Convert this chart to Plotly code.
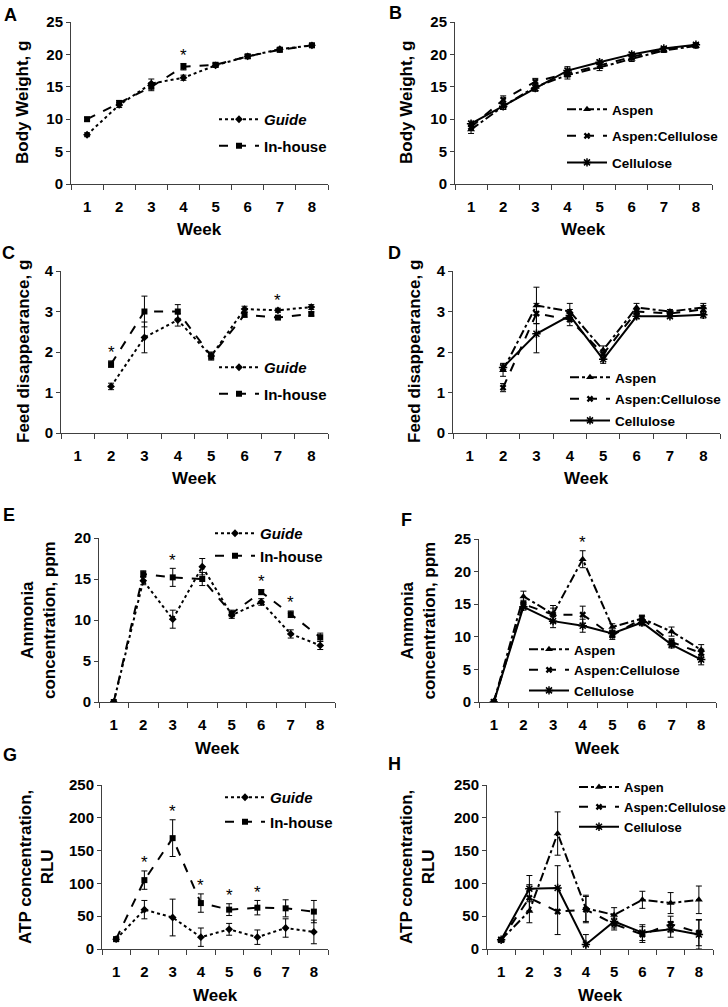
import plotly.graph_objects as go

W, H = 728, 1007
FONT = "Liberation Sans, Arial, sans-serif"

weeks = [1, 2, 3, 4, 5, 6, 7, 8]

# ---- Panel A: body weight, Guide vs In-house ----
bw_guide = [7.6, 12.2, 15.5, 16.4, 18.3, 19.7, 20.8, 21.4]
bw_guide_err = [0.3, 0.4, 0.7, 0.4, 0.3, 0.3, 0.3, 0.3]
bw_inhouse = [10.0, 12.5, 15.0, 18.1, 18.4, 19.7, 20.7, 21.4]
bw_inhouse_err = [0.3, 0.4, 0.6, 0.5, 0.3, 0.3, 0.3, 0.3]
bw_sig_weeks = [4]

# ---- Panel B: body weight by bedding ----
bw_aspen = [8.4, 12.0, 15.0, 16.8, 18.0, 19.3, 20.6, 21.3]
bw_aspen_err = [0.6, 0.5, 0.6, 0.6, 0.5, 0.4, 0.3, 0.3]
bw_ac = [8.8, 13.0, 15.8, 17.0, 18.3, 19.6, 20.8, 21.4]
bw_ac_err = [0.5, 0.6, 0.5, 0.5, 0.4, 0.3, 0.3, 0.3]
bw_cell = [9.3, 12.0, 14.8, 17.5, 18.8, 20.0, 20.9, 21.5]
bw_cell_err = [0.4, 0.5, 0.5, 0.6, 0.3, 0.3, 0.3, 0.3]

# ---- Panel C: feed disappearance, Guide vs In-house ----
fd_guide = [None, 1.15, 2.36, 2.79, 1.90, 3.06, 3.03, 3.11]
fd_guide_err = [None, 0.08, 0.38, 0.15, 0.08, 0.07, 0.05, 0.06]
fd_inhouse = [None, 1.70, 3.00, 3.00, 1.90, 2.92, 2.85, 2.94]
fd_inhouse_err = [None, 0.08, 0.38, 0.17, 0.10, 0.06, 0.04, 0.05]
fd_sig_weeks = [2, 7]

# ---- Panel D: feed disappearance by bedding ----
fd_aspen = [None, 1.55, 3.15, 3.00, 2.05, 3.10, 3.00, 3.10]
fd_aspen_err = [None, 0.15, 0.45, 0.20, 0.10, 0.10, 0.05, 0.10]
fd_ac = [None, 1.12, 2.95, 2.80, 1.95, 3.00, 2.95, 3.05]
fd_ac_err = [None, 0.10, 0.25, 0.15, 0.10, 0.08, 0.05, 0.10]
fd_cell = [None, 1.62, 2.45, 2.90, 1.82, 2.88, 2.88, 2.92]
fd_cell_err = [None, 0.10, 0.47, 0.15, 0.10, 0.06, 0.04, 0.08]

# ---- Panel E: ammonia, Guide vs In-house ----
am_guide = [0, 14.8, 10.1, 16.5, 10.6, 12.2, 8.3, 6.9]
am_guide_err = [0, 0.5, 1.1, 1.0, 0.4, 0.4, 0.5, 0.5]
am_inhouse = [0, 15.6, 15.2, 15.0, 10.8, 13.4, 10.7, 7.9]
am_inhouse_err = [0, 0.4, 1.1, 0.8, 0.4, 0.3, 0.4, 0.5]
am_sig_weeks = [3, 6, 7]

# ---- Panel F: ammonia by bedding ----
am_aspen = [0, 16.2, 13.5, 21.9, 11.5, 12.8, 10.8, 8.0]
am_aspen_err = [0, 0.8, 1.3, 1.3, 0.5, 0.5, 0.7, 0.8]
am_ac = [0, 15.0, 13.4, 13.4, 10.2, 12.8, 9.2, 7.5]
am_ac_err = [0, 0.6, 1.0, 1.3, 0.6, 0.5, 0.5, 0.6]
am_cell = [0, 14.6, 12.4, 11.7, 10.5, 12.2, 8.8, 6.5]
am_cell_err = [0, 0.5, 1.0, 1.0, 0.5, 0.5, 0.5, 0.8]
am_bed_sig_weeks = [4]

# ---- Panel G: ATP, Guide vs In-house ----
atp_guide = [15, 60, 48, 18, 30, 18, 32, 26]
atp_guide_err = [3, 14, 28, 14, 9, 11, 14, 18]
atp_inhouse = [15, 105, 169, 70, 60, 63, 62, 57]
atp_inhouse_err = [3, 14, 28, 14, 9, 11, 13, 17]
atp_sig_weeks = [2, 3, 4, 5, 6]

# ---- Panel H: ATP by bedding ----
atp_aspen = [14, 58, 176, 62, 52, 75, 70, 75]
atp_aspen_err = [3, 18, 33, 20, 11, 13, 16, 21]
atp_ac = [14, 78, 57, 60, 38, 22, 38, 25]
atp_ac_err = [3, 20, 35, 20, 9, 12, 12, 20]
atp_cell = [14, 92, 93, 7, 42, 25, 30, 22]
atp_cell_err = [3, 20, 34, 15, 10, 12, 12, 22]

# ---- layout: plot-area boxes in pixels (x0, x1, ytop, ybottom) ----
panels = {
    "A": dict(box=(71, 328, 22, 184), ymax=25, dtick=5, ytitle="Body Weight, g", tx=23, letter=(10, 15)),
    "B": dict(box=(455, 712, 22, 184), ymax=25, dtick=5, ytitle="Body Weight, g", tx=407, letter=(396, 13)),
    "C": dict(box=(61, 328, 271, 433), ymax=4, dtick=1, ytitle="Feed disappearance, g", tx=23, letter=(8, 253)),
    "D": dict(box=(453, 720, 271, 433), ymax=4, dtick=1, ytitle="Feed disappearance, g", tx=414, letter=(394, 253)),
    "E": dict(box=(99, 335, 538, 702), ymax=20, dtick=5, ytitle="Ammonia<br>concentration, ppm", tx=38, letter=(9, 515)),
    "F": dict(box=(479, 716, 539, 702), ymax=25, dtick=5, ytitle="Ammonia<br>concentration, ppm", tx=418, letter=(406, 520)),
    "G": dict(box=(102, 328, 785, 949), ymax=250, dtick=50, ytitle="ATP concentration,<br>RLU", tx=36, letter=(10, 755)),
    "H": dict(box=(487, 713, 785, 949), ymax=250, dtick=50, ytitle="ATP concentration,<br>RLU", tx=417, letter=(394, 764)),
}

# legend: left edge / top edge in pixels, extra gap between entries, font size
legends = {
    "A": dict(x=214, y=103, gap=4, fs=15),
    "B": dict(x=562, y=94, gap=6, fs=13.5),
    "C": dict(x=214, y=351, gap=4, fs=15),
    "D": dict(x=565, y=362, gap=1, fs=13.5),
    "E": dict(x=210, y=517, gap=0, fs=15),
    "F": dict(x=524, y=634, gap=0, fs=13.5),
    "G": dict(x=220, y=781, gap=2, fs=15),
    "H": dict(x=574, y=772, gap=0, fs=13),
}

GUIDE = dict(name="<i>Guide</i>", dash="dot", symbol="diamond", size=6)
INHOUSE = dict(name="In-house", dash="dash", symbol="square", size=6)
ASPEN = dict(name="Aspen", dash="dashdot", symbol="triangle-up", size=7)
AC = dict(name="Aspen:Cellulose", dash="dash", symbol="x", size=6)
CELL = dict(name="Cellulose", dash="solid", symbol="asterisk-open", size=7)

series = {
    "A": [(GUIDE, bw_guide, bw_guide_err), (INHOUSE, bw_inhouse, bw_inhouse_err)],
    "B": [(ASPEN, bw_aspen, bw_aspen_err), (AC, bw_ac, bw_ac_err), (CELL, bw_cell, bw_cell_err)],
    "C": [(GUIDE, fd_guide, fd_guide_err), (INHOUSE, fd_inhouse, fd_inhouse_err)],
    "D": [(ASPEN, fd_aspen, fd_aspen_err), (AC, fd_ac, fd_ac_err), (CELL, fd_cell, fd_cell_err)],
    "E": [(GUIDE, am_guide, am_guide_err), (INHOUSE, am_inhouse, am_inhouse_err)],
    "F": [(ASPEN, am_aspen, am_aspen_err), (AC, am_ac, am_ac_err), (CELL, am_cell, am_cell_err)],
    "G": [(GUIDE, atp_guide, atp_guide_err), (INHOUSE, atp_inhouse, atp_inhouse_err)],
    "H": [(ASPEN, atp_aspen, atp_aspen_err), (AC, atp_ac, atp_ac_err), (CELL, atp_cell, atp_cell_err)],
}
sig = {"A": bw_sig_weeks, "C": fd_sig_weeks, "E": am_sig_weeks, "F": am_bed_sig_weeks, "G": atp_sig_weeks}

fig = go.Figure()
layout = dict(
    width=W, height=H, margin=dict(l=0, r=0, t=0, b=0, autoexpand=False),
    paper_bgcolor="white", plot_bgcolor="white", showlegend=True,
    font=dict(family=FONT, size=15, color="black"),
)
annotations = []
AX = "#404040"


def px(x):
    return x / W


def py(y):
    return 1 - y / H


for i, (key, p) in enumerate(panels.items()):
    n = i + 1
    xa = "xaxis" if n == 1 else f"xaxis{n}"
    ya = "yaxis" if n == 1 else f"yaxis{n}"
    xr = "x" if n == 1 else f"x{n}"
    yr = "y" if n == 1 else f"y{n}"
    lg = "legend" if n == 1 else f"legend{n}"
    x0, x1, yt, yb = p["box"]
    layout[xa] = dict(
        domain=[px(x0), px(x1)], anchor=yr, range=[0.5, 8.5],
        tickmode="array", tickvals=weeks, ticktext=[str(w) for w in weeks],
        ticks="", ticklabelstandoff=9, showline=True, linecolor=AX, linewidth=1,
        showgrid=False, zeroline=False, fixedrange=True, automargin=False,
        tickfont=dict(family=FONT, size=15, color="black", weight="bold"),
        minor=dict(ticks="outside", tickmode="array", tickvals=[w - 0.5 for w in weeks] + [8.5],
                   ticklen=5, tickcolor=AX, tickwidth=1, showgrid=False),
    )
    layout[ya] = dict(
        domain=[py(yb), py(yt)], anchor=xr, range=[0, p["ymax"]], dtick=p["dtick"], tick0=0,
        ticks="outside", ticklen=4, tickcolor=AX, showline=True, linecolor=AX, linewidth=1,
        showgrid=False, zeroline=False, fixedrange=True, automargin=False,
        tickfont=dict(family=FONT, size=15, color="black", weight="bold"),
    )
    lgd = legends[key]
    layout[lg] = dict(
        x=px(lgd["x"]), y=py(lgd["y"]), xanchor="left", yanchor="top",
        bgcolor="rgba(0,0,0,0)", borderwidth=0, itemwidth=40,
        tracegroupgap=lgd["gap"], traceorder="grouped",
        font=dict(family=FONT, size=lgd["fs"], color="black", weight="bold"),
        itemclick=False, itemdoubleclick=False,
    )
    for j, (st, vals, errs) in enumerate(series[key]):
        mline = dict(width=1.5, color="black") if st["symbol"].endswith("open") else dict(width=0)
        fig.add_trace(go.Scatter(
            x=weeks, y=vals, name=st["name"], mode="lines+markers",
            line=dict(color="black", width=2, dash=st["dash"]),
            marker=dict(symbol=st["symbol"], size=st["size"], color="black", line=mline),
            error_y=dict(type="data", array=errs, color="black", thickness=1, width=3, visible=True),
            xaxis=xr, yaxis=yr, legend=lg, legendgroup=f"{key}{j}",
            connectgaps=False, hoverinfo="skip",
        ))
    # significance stars, placed just above the tallest error bar at that week
    for w in sig.get(key, []):
        k = weeks.index(w)
        top = max((v[k] or 0) + (e[k] or 0) for _, v, e in series[key])
        annotations.append(dict(
            x=w, y=top, xref=xr, yref=yr, text="*", showarrow=False,
            font=dict(family=FONT, size=17, color="black"), yanchor="middle", yshift=8,
        ))
    # y title
    annotations.append(dict(
        x=px(p["tx"]), y=py((yt + yb) / 2), xref="paper", yref="paper", text=p["ytitle"],
        textangle=-90, showarrow=False, xanchor="center", yanchor="middle",
        font=dict(family=FONT, size=17, color="black", weight="bold"),
    ))
    # x title
    annotations.append(dict(
        x=px((x0 + x1) / 2), y=py(yb + 46), xref="paper", yref="paper", text="Week",
        showarrow=False, xanchor="center", yanchor="middle",
        font=dict(family=FONT, size=17, color="black", weight="bold"),
    ))
    # panel letter
    lx, ly = p["letter"]
    annotations.append(dict(
        x=px(lx), y=py(ly), xref="paper", yref="paper", text=key, showarrow=False,
        xanchor="center", yanchor="middle",
        font=dict(family=FONT, size=18, color="black", weight="bold"),
    ))

layout["annotations"] = annotations
fig.update_layout(**layout)
fig.write_html(
    "out.html",
    config={"displayModeBar": False, "staticPlot": True},
    post_script="document.body.style.margin='0';document.body.style.overflow='hidden';",
)
